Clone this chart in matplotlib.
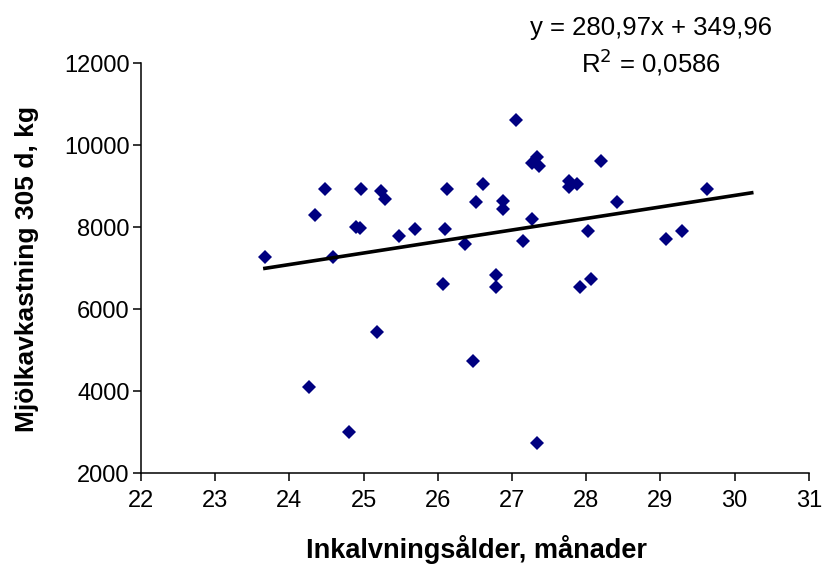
import matplotlib
matplotlib.use("Agg")
import matplotlib.pyplot as plt
import numpy as np

plt.rcParams['font.family'] = ['Liberation Sans', 'DejaVu Sans']

# inkalvningsålder (månader) och mjölkavkastning 305 d (kg)
alder = [23.67, 24.27, 24.35, 24.48, 24.59, 24.80, 24.90, 24.95, 24.97, 25.18,
         25.23, 25.29, 25.48, 25.69, 26.07, 26.10, 26.13, 26.37, 26.47, 26.51,
         26.61, 26.78, 26.78, 26.88, 26.88, 27.05, 27.15, 27.27, 27.27, 27.34,
         27.37, 27.34, 27.77, 27.88, 27.77, 27.91, 28.02, 28.07, 28.20, 28.42,
         29.07, 29.29, 29.63]
mjolk = [7270, 4100, 8290, 8930, 7270, 3010, 8010, 7990, 8930, 5460,
         8890, 8680, 7800, 7950, 6630, 7950, 8930, 7590, 4730, 8630,
         9070, 6840, 6540, 8650, 8440, 10630, 7660, 8210, 9560, 9720,
         9500, 2730, 9140, 9070, 8980, 6540, 7900, 6730, 9610, 8630,
         7710, 7900, 8930]

# trendlinje enligt diagrammets ekvation
k, m = 280.97, 349.96
trend_x = [23.67, 30.23]

fig = plt.figure(figsize=(8.22, 5.71), dpi=100)
ax = fig.add_axes([0.1715, 0.171, 0.8125, 0.718])

ax.plot(alder, mjolk, linestyle='none', marker='D', markersize=7.0,
        color='#000080', markeredgewidth=0)
tx = np.array(trend_x)
ax.plot(tx, k * tx + m, color='black', linewidth=2.6)

ax.set_xlim(22, 31)
ax.set_ylim(2000, 12000)
ax.set_xticks(range(22, 32))
ax.set_yticks(range(2000, 12001, 2000))

for s in ['top', 'right']:
    ax.spines[s].set_visible(False)
for s in ['left', 'bottom']:
    ax.spines[s].set_linewidth(1.1)
ax.tick_params(direction='out', length=6, width=1.1, labelsize=17)
ax.tick_params(axis='x', pad=6)
ax.tick_params(axis='y', pad=2)

fig.text(476 / 822, 1 - 549 / 571, 'Inkalvningsålder, månader', fontsize=19.5,
         fontweight='bold', ha='center', va='center')
fig.text(27 / 822, 1 - 269 / 571, 'Mjölkavkastning 305 d, kg', fontsize=19,
         fontweight='bold', ha='center', va='center', rotation=90)

fig.text(651 / 822, 1 - 28 / 571, 'y = 280,97x + 349,96', fontsize=18.5,
         ha='center', va='center')
fig.text(651 / 822, 1 - 62 / 571, 'R$^2$ = 0,0586', fontsize=18.5,
         ha='center', va='center')

fig.savefig('out.png', dpi=100)
